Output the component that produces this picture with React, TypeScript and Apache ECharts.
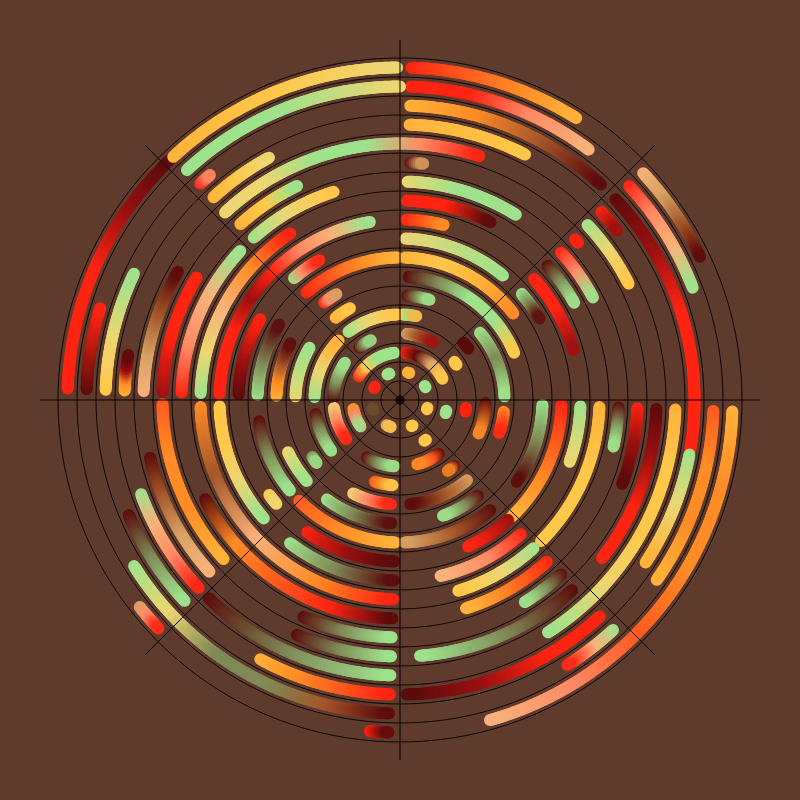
import React, { useEffect, useRef } from "react";
import * as echarts from "echarts";

// colour codes used by the strokes
const palette: Record<string, string> = {
  D: "#5a0b0b", // dark maroon
  K: "#9c1010", // dark red
  R: "#ff2412", // red
  E: "#ff5a1e", // red-orange
  O: "#ff8c26", // orange
  A: "#ffb23a", // amber
  Y: "#ffc84a", // yellow
  P: "#ecd672", // pale yellow
  G: "#9ee28c", // light green
  V: "#7f8a56", // olive
  S: "#ff8a66", // salmon
  H: "#f8b27a", // peach
  T: "#d6a062", // tan
  N: "#a4562a", // brown
};

const ringCount = 18; // concentric bands
const sectorStep = 45; // radial guide lines

// [band, startAngle, endAngle, colour stops]  (angles in degrees, counter-clockwise from east)
const arcsNE: [number, number, number, string][] = [
  [17, 88, 58, "R>E>O>A"],
  [16, 88, 53, "R>R>S>H"],
  [15, 88, 47, "A>O>N>D"],
  [14, 88, 63, "A>Y"],
  [13, 133, 72, "P>P>G>G>S>R"],
  [12, 87.5, 84.4, "D>T"],
  [11, 88, 58, "P>G>G"],
  [10, 88, 63, "R>R>D"],
  [9, 88, 76, "R>O"],
  [8, 88, 50.4, "P>G"],
  [7, 88, 37.4, "A>Y>A>O"],
  [6, 86, 22.5, "D>V>G>G>Y"],
  [5, 86, 73.6, "D>G"],
  [4, 88, 79, "Y>G>A"],
  [3, 84, 60, "T>N>K"],
  [2, 84, 26.6, "R>D>T>Y"],
  [1, 74, 71, "A"],
  [1, 29.5, 26.5, "G"],
  [17, 43, 25.5, "H>T>N>D"],
  [16, 43, 21, "R>S>H>G"],
  [15, 43, -9.7, "D>K>R>R>R"],
  [14, 43, 38, "R>K"],
  [13, 43, 27, "G>P>Y"],
  [12, 42.5, 41.5, "R"],
  [11, 42.5, 28, "R>S>G"],
  [10, 42.3, 29.2, "D>V>G"],
  [9, 42, 16, "R>R>K"],
  [8, 41, 30.3, "G>V>D"],
  [5, 40, 2, "G>V>G"],
  [4, 42, 37, "D"],
  [3, 35, 32, "Y"],
];

const arcsNW: [number, number, number, string][] = [
  [17, 178, 134, "R>R>R>K>D"],
  [17, 133, 90.5, "A>Y>P"],
  [16, 178, 163, "D>R"],
  [16, 132.8, 90, "G>G>P"],
  [15, 178, 154.6, "Y>P>G"],
  [15, 132.7, 130.2, "R>S"],
  [14, 178, 170.6, "A>O>K>D"],
  [14, 132.6, 118.4, "A>Y>P"],
  [13, 178, 150, "H>T>N>D"],
  [12, 178, 149, "K>R>R"],
  [12, 132.2, 115.7, "A>Y>G"],
  [11, 178, 137, "R>S>H>G"],
  [11, 132, 107.7, "G>P>Y"],
  [10, 178, 123.4, "G>P>H>O>R"],
  [9, 178, 99.6, "R>R>R>K>R>S>H>G"],
  [8, 178, 150, "D>K>R"],
  [8, 131, 120, "G>S>R"],
  [7, 178, 148, "G>V>D"],
  [7, 131, 91, "R>E>O>A"],
  [6, 178, 152.7, "A>O>N>D"],
  [6, 127.8, 121, "R>S>T"],
  [5, 178, 150, "P>G"],
  [5, 128, 118.6, "A>Y"],
  [4, 178, 136, "G>P>A"],
  [4, 127, 92, "G>P>Y"],
  [3, 178, 146, "D>V>G"],
  [3, 128, 116, "D>G"],
  [2, 150, 97, "R>Y>G>G"],
  [1, 116, 112, "G"],
  [1, 155, 152, "R"],
];

const arcsSW: [number, number, number, string][] = [
  [17, 218.5, 223.4, "T>S>R"],
  [17, 264.8, 268, "R>D"],
  [16, 212, 268, "G>P>V>V>N>D"],
  [15, 203, 223, "D>V>G"],
  [15, 241.7, 268, "A>O>E>R"],
  [14, 200, 223, "G>H>S>R"],
  [14, 226, 268, "D>V>G"],
  [13, 193, 222, "D>N>T>H"],
  [13, 246.3, 268, "D>V>G"],
  [12, 181, 222, "E>O>O>A"],
  [12, 246, 268, "D>V>G"],
  [11, 207, 268, "D>O>E>R>D"],
  [10, 182, 268, "O>N>H>O>R"],
  [9, 182, 221, "Y>Y>P>G"],
  [9, 232.5, 268, "G>V>D"],
  [8, 216, 220, "Y>P"],
  [8, 235, 268, "R>K>D"],
  [7, 188.6, 219.4, "D>V>G"],
  [7, 225, 268, "E>O>A"],
  [6, 205, 221, "P>G"],
  [6, 233.7, 266, "G>V>D"],
  [5, 213, 217, "V>G"],
  [5, 243.4, 265, "P>S>R"],
  [4, 189.5, 216.4, "D>V>G"],
  [4, 253, 265, "E>O>Y"],
  [3, 187, 216, "P>S>R"],
  [3, 240, 265, "D>V>G"],
  [2, 191, 213.7, "O>S>G"],
  [1, 197, 200, "V>D"],
  [1, 242, 251, "T>Y"],
];

const arcsSE: [number, number, number, string][] = [
  [17, -2, -74.3, "A>O>O>E>S>H"],
  [16, -2, -35, "E>O>O>A"],
  [16, -47.2, -57.7, "G>H>R"],
  [15, -10.7, -33.5, "G>P>A"],
  [15, -47.3, -88.7, "R>R>K>D"],
  [14, -2, -57.5, "A>Y>Y>P>G"],
  [13, -2, -38, "D>K>R>R"],
  [13, -47.9, -85.5, "D>V>G"],
  [12, -2, -20.7, "R>K>D"],
  [12, -47.3, -58.3, "D>V>G"],
  [11, -2, -12.3, "D>V>G"],
  [11, -47.8, -72.4, "R>E>O>A"],
  [10, -2, -45, "A>Y>Y"],
  [10, -48, -73, "G>P>Y"],
  [9, -2, -20, "G>P"],
  [9, -48, -77, "R>S>H"],
  [8, -2, -46, "R>E>O>A"],
  [8, -48, -65, "K>R"],
  [7, -2, -35, "G>V>D"],
  [7, -50.7, -88, "D>N>T"],
  [6, -50.9, -69.6, "D>V>G"],
  [5, -6.5, -18.4, "O>R"],
  [5, -50.2, -84.5, "T>N>D"],
  [4, -2, -23, "D>O"],
  [4, -50.6, -56, "D>O"],
  [3, -7, -10, "R"],
  [3, -54.3, -75, "D>E>O"],
  [2, -13, -16, "G"],
  [2, -57, -59, "Y"],
  [1, -16, -19, "Y"],
  [1, -64, -66, "Y"],
];

const allArcs = [...arcsNE, ...arcsNW, ...arcsSW, ...arcsSE];

function hexToRgb(h: string): number[] {
  const v = parseInt(h.slice(1), 16);
  return [(v >> 16) & 255, (v >> 8) & 255, v & 255];
}

function colourAt(codes: string, t: number): string {
  const stops = codes.split(">").map((c) => hexToRgb(palette[c]));
  if (stops.length === 1) {
    const s = stops[0];
    return `rgb(${s[0]},${s[1]},${s[2]})`;
  }
  const pos = Math.min(Math.max(t, 0), 1) * (stops.length - 1);
  const i = Math.min(Math.floor(pos), stops.length - 2);
  const f = pos - i;
  const a = stops[i];
  const b = stops[i + 1];
  const c = a.map((v, k) => Math.round(v + (b[k] - v) * f));
  return `rgb(${c[0]},${c[1]},${c[2]})`;
}

export default function App() {
  const ref = useRef<HTMLDivElement>(null);

  useEffect(() => {
    if (!ref.current) return;
    const chart = echarts.init(ref.current, undefined, { renderer: "svg" });

    const data = allArcs.map((a, i) => [a[0] + 0.5, a[1], a[2], i]);

    const option: any = {
      animation: false,
      backgroundColor: "#5f3b2e",
      polar: [
        { center: ["50%", "50%"], radius: 342 },
        { center: ["50%", "50%"], radius: 360 },
      ],
      radiusAxis: [
        {
          polarIndex: 0,
          type: "value",
          min: 0,
          max: ringCount,
          interval: 1,
          z: 3,
          axisLine: { show: false },
          axisTick: { show: false },
          axisLabel: { show: false },
          splitLine: { show: true, lineStyle: { color: "#0c0503", width: 1 } },
        },
        {
          polarIndex: 1,
          type: "value",
          min: 0,
          max: 1,
          show: false,
        },
      ],
      angleAxis: [
        {
          polarIndex: 0,
          type: "value",
          min: 0,
          max: 360,
          startAngle: 0,
          clockwise: false,
          axisLine: { show: false },
          axisTick: { show: false },
          axisLabel: { show: false },
          splitLine: { show: false },
        },
        {
          polarIndex: 1,
          type: "value",
          min: 0,
          max: 360,
          interval: sectorStep,
          startAngle: 0,
          clockwise: false,
          z: 3,
          axisLine: { show: false },
          axisTick: { show: false },
          axisLabel: { show: false },
          splitLine: { show: true, lineStyle: { color: "#050202", width: 1 } },
        },
      ],
      series: [
        {
          type: "custom",
          coordinateSystem: "polar",
          polarIndex: 0,
          z: 2,
          silent: true,
          data,
          renderItem: (params: any, api: any) => {
            const idx = api.value(3);
            const codes = allArcs[idx][3];
            const r = api.value(0);
            const a0 = api.value(1);
            const a1 = api.value(2);
            const c = api.coord([0, 0]);
            const p0 = api.coord([r, a0]);
            const pr = Math.hypot(p0[0] - c[0], p0[1] - c[1]);
            const len = (Math.abs(a1 - a0) * Math.PI * pr) / 180;
            const n = Math.ceil(len / 2.5);
            const children: any[] = [];
            if (n <= 0) {
              children.push({
                type: "circle",
                shape: { cx: p0[0], cy: p0[1], r: 6 },
                style: { fill: colourAt(codes, 0) },
              });
            } else {
              let prev = p0;
              for (let i = 1; i <= n; i++) {
                const t = i / n;
                const p = api.coord([r, a0 + (a1 - a0) * t]);
                children.push({
                  type: "line",
                  shape: { x1: prev[0], y1: prev[1], x2: p[0], y2: p[1] },
                  style: {
                    stroke: colourAt(codes, (i - 0.5) / n),
                    lineWidth: 12,
                    lineCap: "round",
                  },
                });
                prev = p;
              }
            }
            return { type: "group", children };
          },
        },
        {
          type: "scatter",
          coordinateSystem: "polar",
          polarIndex: 0,
          z: 4,
          symbolSize: 9,
          itemStyle: { color: "#050302" },
          data: [[0, 0]],
          silent: true,
        },
      ],
    };

    chart.setOption(option);
    return () => chart.dispose();
  }, []);

  return (
    <div
      ref={ref}
      style={{ position: "fixed", left: 0, top: 0, width: 800, height: 800 }}
    />
  );
}
